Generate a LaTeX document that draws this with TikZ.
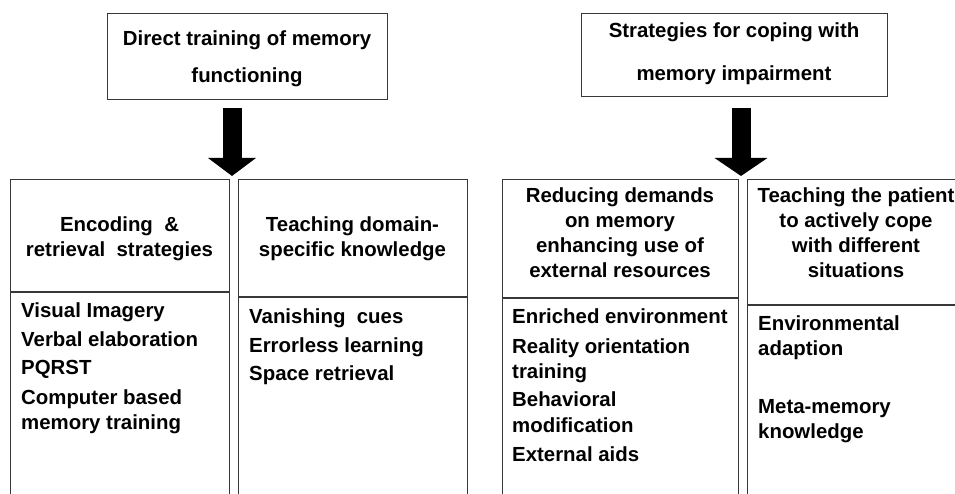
\documentclass[tikz,border=0pt]{standalone}
\usepackage{fontspec}
\setmainfont{Liberation Sans}
\usetikzlibrary{arrows.meta}
\definecolor{linec}{HTML}{383838}
\tikzset{
  frame/.style={draw=linec, line width=1.1pt, fill=none, inner sep=0pt, anchor=north west},
  rule/.style={draw=linec, line width=1.1pt},
  txt/.style={inner sep=0pt, font=\fontsize{20.4}{24}\selectfont\bfseries, text=black},
  ctr/.style={txt, anchor=base},
  lft/.style={txt, anchor=base west},
  fatarrow/.style={draw=black, -{Triangle[length=18pt, width=#1]}, line width=19pt},
}
\begin{document}
\begin{tikzpicture}[x=1pt, y=-1pt]
\useasboundingbox (0,0) rectangle (955,494);
\fill[white] (0,0) rectangle (955,494);
\clip (0,0) rectangle (955,494);

% ---------- top-level boxes ----------
\node[frame, minimum width=280pt, minimum height=86pt] (direct) at (107,13) {};
\node[ctr] (direct1) at (247,46) {Direct training of memory};
\node[ctr] (direct2) at (247,83) {functioning};

\node[frame, minimum width=306pt, minimum height=83pt] (coping) at (581,13) {};
\node[ctr] (coping1) at (734,38) {Strategies for coping with};
\node[ctr] (coping2) at (734,81) {memory impairment};

% ---------- lower columns ----------
\node[frame, minimum width=219pt, minimum height=330pt] (enc) at (10,179) {};
\node[frame, minimum width=229pt, minimum height=330pt] (dom) at (238,179) {};
\node[frame, minimum width=236pt, minimum height=330pt] (red) at (502,179) {};
\node[frame, minimum width=220pt, minimum height=330pt] (pat) at (747,179) {};

\draw[rule] (enc.west |- 0,292) -- (enc.east |- 0,292);
\draw[rule] (dom.west |- 0,297) -- (dom.east |- 0,297);
\draw[rule] (red.west |- 0,298) -- (red.east |- 0,298);
\draw[rule] (pat.west |- 0,305) -- (pat.east |- 0,305);

% ---------- fat arrows ----------
\coordinate (a1s) at (232,108);
\coordinate (a1e) at (232,176);
\draw[fatarrow=47pt] (a1s) -- (a1e);
\coordinate (a2s) at (741,108);
\coordinate (a2e) at (741,176);
\draw[fatarrow=52pt] (a2s) -- (a2e);

% ---------- column 1 ----------
\node[ctr] (enc1) at (119.5,232) {Encoding\ \ \&};
\node[ctr] (enc2) at (119.5,257) {retrieval\ \ strategies};
\node[lft] (enc3) at (21,317) {Visual Imagery};
\node[lft] (enc4) at (21,346) {Verbal elaboration};
\node[lft] (enc5) at (21,374) {PQRST};
\node[lft] (enc6) at (21,404) {Computer based};
\node[lft] (enc7) at (21,429) {memory training};

% ---------- column 2 ----------
\node[ctr] (dom1) at (352.5,232) {Teaching domain-};
\node[ctr] (dom2) at (352.5,257) {specific knowledge};
\node[lft] (dom3) at (249,323) {Vanishing\ \ cues};
\node[lft] (dom4) at (249,352) {Errorless learning};
\node[lft] (dom5) at (249,380) {Space retrieval};

% ---------- column 3 ----------
\node[ctr] (red1) at (620,203) {Reducing demands};
\node[ctr] (red2) at (620,228) {on memory};
\node[ctr] (red3) at (620,252) {enhancing use of};
\node[ctr] (red4) at (620,277) {external resources};
\node[lft] (red5) at (512,323) {Enriched environment};
\node[lft] (red6) at (512,353) {Reality orientation};
\node[lft] (red7) at (512,378) {training};
\node[lft] (red8) at (512,406) {Behavioral};
\node[lft] (red9) at (512,432) {modification};
\node[lft] (red10) at (512,461) {External aids};

% ---------- column 4 ----------
\node[ctr] (pat1) at (856,203) {Teaching the patient};
\node[ctr] (pat2) at (856,228) {to actively cope};
\node[ctr] (pat3) at (856,252) {with different};
\node[ctr] (pat4) at (856,277) {situations};
\node[lft] (pat5) at (758,330) {Environmental};
\node[lft] (pat6) at (758,355) {adaption};
\node[lft] (pat7) at (758,413) {Meta-memory};
\node[lft] (pat8) at (758,438) {knowledge};
\end{tikzpicture}
\end{document}
